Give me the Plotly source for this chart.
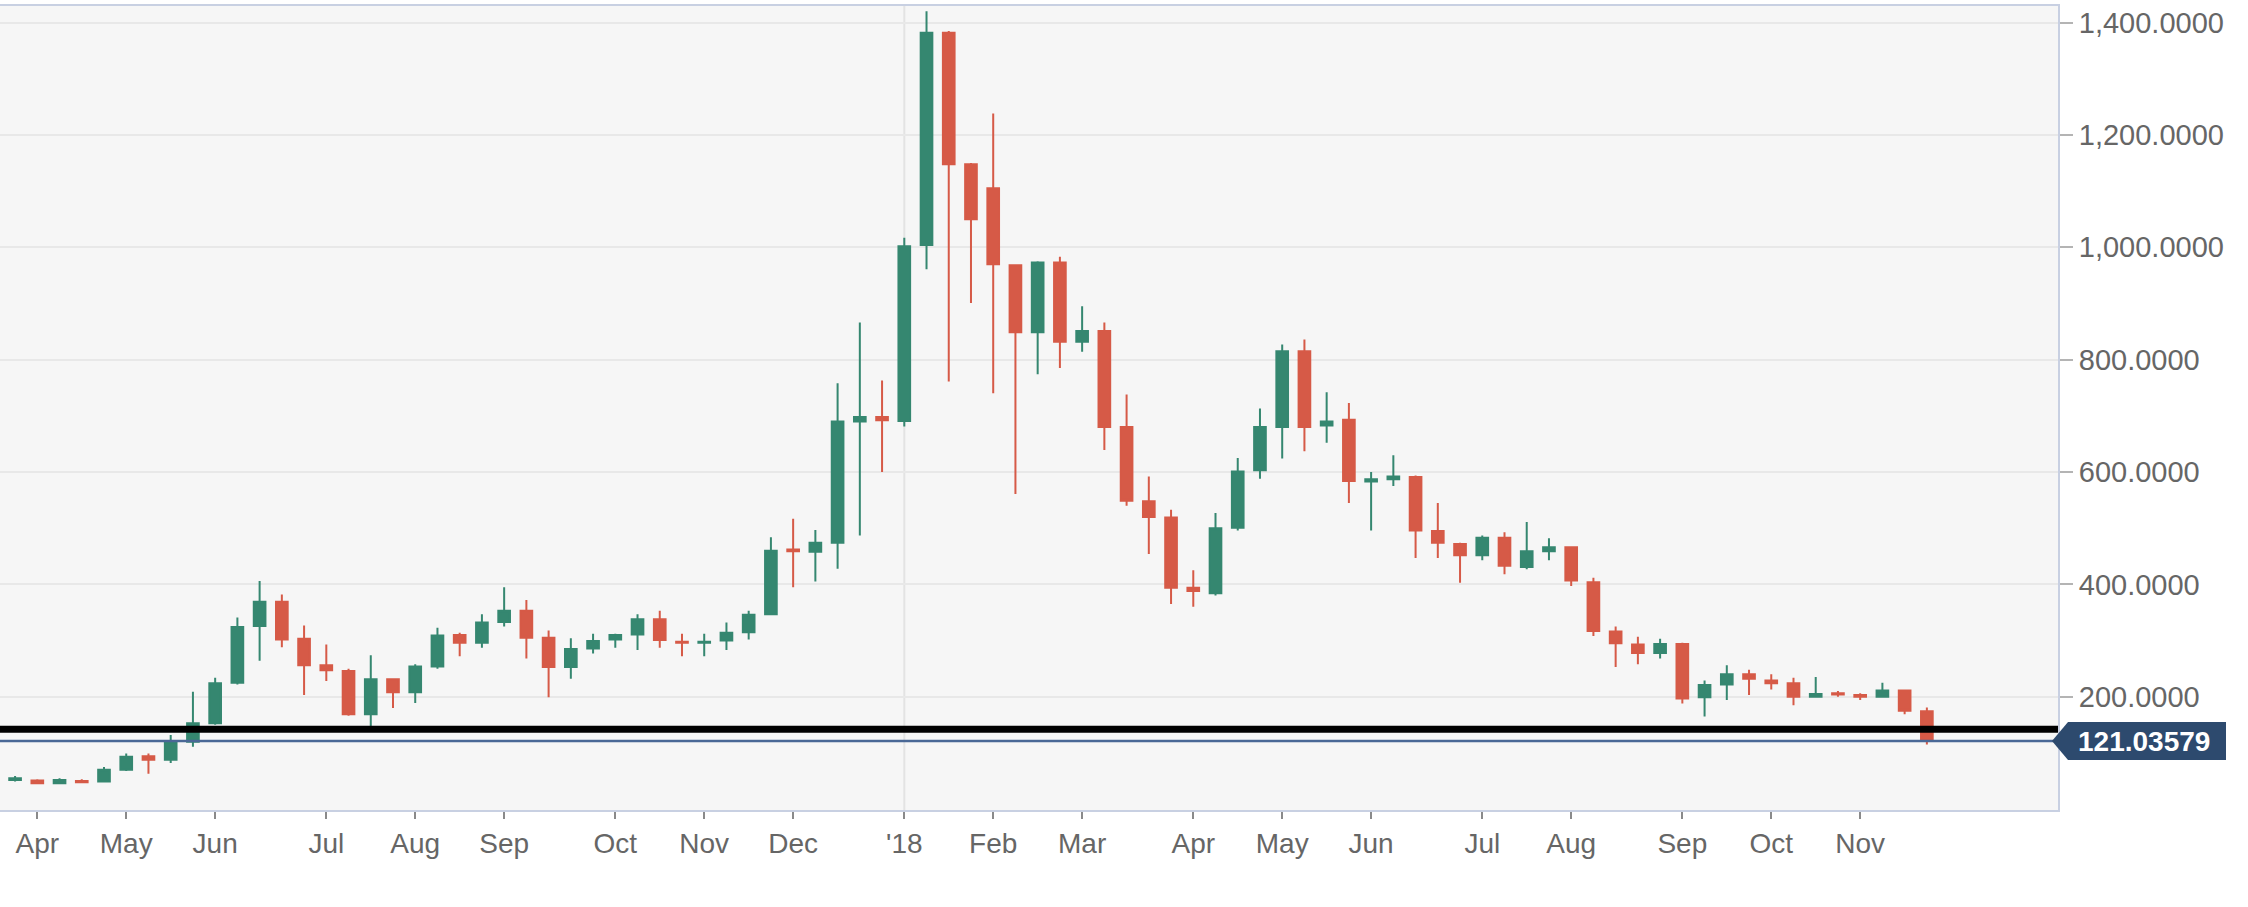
import pandas as pd
import plotly.graph_objects as go

# Weekly candles (week starting Friday), 2017-03-24 .. 2018-11-23
dates = pd.date_range("2017-03-24", periods=88, freq="7D")

opens = [36, 52, 51, 46, 50, 49, 70, 94, 88, 120, 153, 225, 326, 369, 303, 256, 246, 169, 231, 208,
         254, 310, 296, 333, 353, 305, 253, 286, 302, 311, 338, 298, 296, 300, 315, 347, 462, 458, 474, 690,
         698, 691, 1004, 1382, 1148, 1105, 968, 849, 973, 832, 851, 680, 548, 519, 394, 384, 501, 603, 680, 815,
         683, 693, 583, 587, 591, 495, 472, 452, 483, 431, 459, 466, 404, 316, 293, 278, 294, 199, 222, 240,
         229, 224, 200, 206, 203, 200, 211, 174]
highs = [50, 59, 53, 55, 53, 75, 99, 99, 132, 209, 234, 341, 406, 382, 327, 293, 250, 274, 233, 258,
         323, 314, 347, 395, 372, 318, 304, 312, 312, 347, 353, 312, 312, 332, 353, 484, 517, 497, 758, 866,
         763, 1017, 1420, 1385, 1150, 1238, 970, 975, 983, 895, 866, 738, 592, 533, 425, 527, 625, 713, 827, 836,
         742, 723, 600, 630, 594, 545, 474, 487, 493, 511, 482, 468, 412, 325, 307, 303, 296, 229, 256, 248,
         240, 234, 235, 210, 206, 225, 212, 181]
lows = [34, 49, 45, 45, 47, 48, 68, 63, 82, 111, 150, 222, 264, 288, 203, 228, 166, 145, 180, 189,
        250, 272, 287, 325, 268, 199, 232, 277, 287, 283, 287, 272, 272, 283, 302, 345, 395, 405, 428, 487,
        600, 681, 961, 761, 901, 740, 561, 774, 785, 814, 639, 540, 454, 365, 360, 380, 496, 588, 624, 637,
        652, 545, 496, 575, 447, 447, 403, 443, 418, 427, 443, 397, 308, 253, 258, 268, 188, 165, 194, 203,
        213, 185, 199, 200, 194, 198, 169, 115]
closes = [48, 55, 46, 52, 48, 70, 93, 88, 120, 153, 224, 324, 369, 302, 256, 247, 169, 231, 208, 254,
          309, 296, 332, 353, 305, 253, 285, 299, 310, 338, 301, 296, 298, 314, 346, 460, 459, 474, 690, 698,
          692, 1002, 1382, 1148, 1050, 970, 849, 973, 832, 851, 680, 549, 520, 394, 388, 500, 601, 680, 815, 680,
          690, 584, 587, 592, 496, 474, 452, 483, 433, 459, 466, 407, 317, 295, 278, 294, 197, 221, 240, 232,
          224, 200, 205, 204, 200, 211, 175, 121.03579]

# Axis ticks (first weekly candle of each month)
tick_dates = ["2017-04-07", "2017-05-05", "2017-06-02", "2017-07-07", "2017-08-04", "2017-09-01",
              "2017-10-06", "2017-11-03", "2017-12-01", "2018-01-05", "2018-02-02", "2018-03-02",
              "2018-04-06", "2018-05-04", "2018-06-01", "2018-07-06", "2018-08-03", "2018-09-07",
              "2018-10-05", "2018-11-02"]
tick_labels = ["Apr", "May", "Jun", "Jul", "Aug", "Sep", "Oct", "Nov", "Dec", "'18",
               "Feb", "Mar", "Apr", "May", "Jun", "Jul", "Aug", "Sep", "Oct", "Nov"]
y_ticks = [200, 400, 600, 800, 1000, 1200, 1400]

support_level = 142
last_price = 121.03579
year_marker = "2018-01-05"

GREEN = "#358770"
RED = "#d65a47"
FONT = "Liberation Sans, Arial, sans-serif"

fig = go.Figure()
fig.add_trace(go.Candlestick(
    x=dates, open=opens, high=highs, low=lows, close=closes,
    increasing=dict(line=dict(color=GREEN, width=2), fillcolor=GREEN),
    decreasing=dict(line=dict(color=RED, width=2), fillcolor=RED),
    whiskerwidth=0, hoverinfo="skip", showlegend=False,
))

# vertical year line
fig.add_shape(type="line", xref="x", yref="paper", x0=year_marker, x1=year_marker, y0=0, y1=1,
              line=dict(color="#e3e3e3", width=2), layer="below")
# support line and last price line
fig.add_shape(type="line", xref="paper", yref="y", x0=0, x1=1, y0=support_level, y1=support_level,
              line=dict(color="#000000", width=7), layer="above")
fig.add_shape(type="line", xref="paper", yref="y", x0=0, x1=1, y0=last_price, y1=last_price,
              line=dict(color="#4a6896", width=2.5), layer="above")
# price label background with arrow
fig.add_shape(type="path", xref="paper", yref="y", xsizemode="pixel", ysizemode="pixel",
              xanchor=1, yanchor=last_price,
              path="M -6,0 L 10,19 L 200,19 L 200,-19 L 10,-19 Z",
              fillcolor="#2d4a6e", line=dict(width=0), layer="above")
fig.add_annotation(xref="paper", yref="y", x=1, y=last_price, xanchor="left", yanchor="middle",
                   xshift=18, text="<b>%.5f</b>" % last_price, showarrow=False,
                   font=dict(family=FONT, size=28, color="#ffffff"))

fig.update_layout(
    width=2226, height=907,
    margin=dict(l=0, r=168, t=6, b=97),
    paper_bgcolor="#ffffff", plot_bgcolor="#f6f6f6",
    showlegend=False,
    boxgap=0.25,
    xaxis=dict(
        type="date", range=["2017-03-26 06:00", "2019-01-03 07:00"],
        rangeslider=dict(visible=False),
        tickvals=tick_dates, ticktext=tick_labels,
        ticks="outside", ticklen=7, tickwidth=2, tickcolor="#8a8a8a",
        showgrid=False, zeroline=False,
        showline=True, mirror=True, linecolor="#c8d0e2", linewidth=2,
        tickfont=dict(family=FONT, size=28, color="#666666"),
    ),
    yaxis=dict(
        side="right", range=[-1.6, 1429.5],
        tickvals=y_ticks, tickformat=",.4f",
        ticks="outside", ticklen=13, tickwidth=2, tickcolor="#b4b4b4",
        showgrid=True, gridcolor="#e8e8e8", gridwidth=2, zeroline=False,
        showline=True, linecolor="#c8d0e2", linewidth=2,
        tickfont=dict(family=FONT, size=29, color="#666666"),
    ),
)

fig.write_html("out.html")
